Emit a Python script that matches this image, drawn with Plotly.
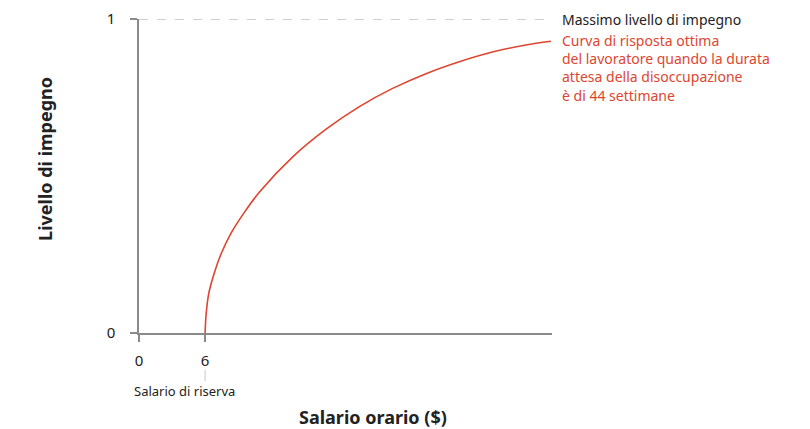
import plotly.graph_objects as go

# Best-response curve
wage = [6, 6.1, 6.33, 6.8, 7.42, 8.36, 9.58, 10.94, 13.96, 16.99, 20.01,
        23.03, 26.06, 29.08, 32.09, 35.12, 37.4]
effort = [0, 0.062, 0.125, 0.187, 0.249, 0.318, 0.385, 0.449, 0.561, 0.649,
          0.721, 0.779, 0.826, 0.864, 0.895, 0.917, 0.929]

x_ticks = [0, 6]
y_ticks = [0, 1]
max_effort = 1
reservation_wage = 6
x_max = 37.5

RED = "#de4530"
GREY = "#8a8a8a"
FONT = "Noto Sans"

fig = go.Figure()

# Maximum effort line
fig.add_trace(go.Scatter(
    x=[0, x_max], y=[max_effort, max_effort], mode="lines",
    line=dict(color="#a0a0a0", width=1, dash="dash"),
    hoverinfo="skip", showlegend=False,
))

fig.add_trace(go.Scatter(
    x=wage, y=effort, mode="lines",
    line=dict(color=RED, width=1.6, shape="spline", smoothing=0.9),
    showlegend=False,
))

# connector between the "6" tick and its label
fig.add_shape(type="line", xref="x", yref="paper",
              x0=reservation_wage, x1=reservation_wage, y0=-0.118, y1=-0.153,
              line=dict(color="#c8c8c8", width=1))

fig.add_annotation(text="Salario di riserva", xref="paper", yref="paper",
                   x=-0.018, y=-0.186, xanchor="left", yanchor="middle",
                   showarrow=False, font=dict(family=FONT, size=13, color="#222"))

fig.add_annotation(text="Massimo livello di impegno", xref="paper", yref="y",
                   x=1.019, y=max_effort, xanchor="left", yanchor="middle",
                   showarrow=False, font=dict(family=FONT, size=14, color="#222"))

fig.add_annotation(
    text="Curva di risposta ottima<br>del lavoratore quando la durata<br>"
         "attesa della disoccupazione<br>è di 44 settimane",
    xref="paper", yref="paper", x=1.019, y=0.968, xanchor="left", yanchor="top",
    align="left", showarrow=False, font=dict(family=FONT, size=14, color=RED))

fig.add_annotation(text="<b>Salario orario ($)</b>", xref="paper", yref="paper",
                   x=0.567, y=-0.268, xanchor="center", yanchor="middle",
                   showarrow=False, font=dict(family=FONT, size=18, color="#222"))

fig.add_annotation(text="<b>Livello di impegno</b>", xref="paper", yref="paper",
                   x=-0.228, y=0.554, textangle=-90, xanchor="center", yanchor="middle",
                   showarrow=False, font=dict(family=FONT, size=18, color="#222"))

fig.update_xaxes(
    range=[0, x_max], tickvals=x_ticks, ticktext=[str(t) for t in x_ticks],
    showline=True, linecolor=GREY, linewidth=1.5, ticks="outside", ticklen=7,
    tickcolor=GREY, tickwidth=1.5, showgrid=False, zeroline=False,
    automargin=False, ticklabelstandoff=6,
    tickfont=dict(family=FONT, size=15, color="#222"),
)
fig.update_yaxes(
    range=[0, 1], tickvals=y_ticks, ticktext=[str(t) for t in y_ticks],
    showline=True, linecolor=GREY, linewidth=1.5, ticks="outside", ticklen=7,
    tickcolor=GREY, tickwidth=1.5, showgrid=False, zeroline=False,
    automargin=False, ticklabelstandoff=12, ticklabeloverflow="allow",
    tickfont=dict(family=FONT, size=15, color="#222"),
)

# page body adds an 8px margin, so size and margins are trimmed to suit
fig.update_layout(
    width=802, height=421,
    margin=dict(l=131, r=258, t=11, b=96),
    paper_bgcolor="white", plot_bgcolor="white",
    font=dict(family=FONT),
)

fig.write_html("out.html")
